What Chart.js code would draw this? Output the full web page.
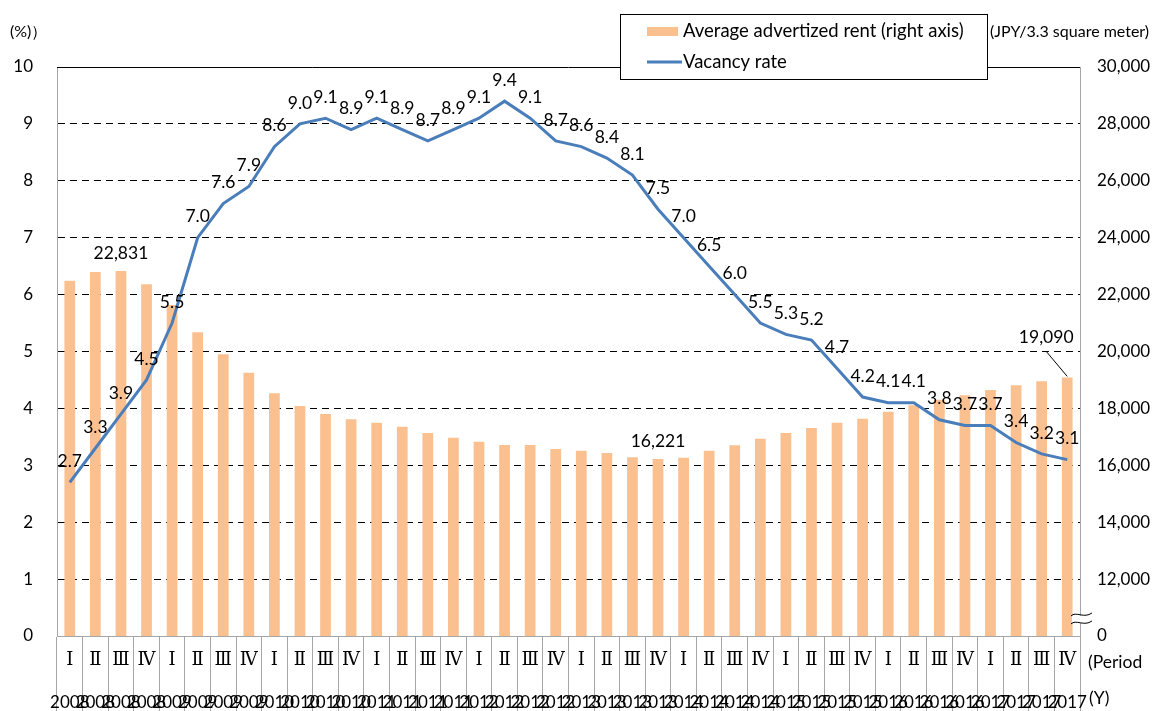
<!DOCTYPE html>
<html>
<head>
<meta charset="utf-8">
<script src="https://cdn.jsdelivr.net/npm/chart.js@4.4.1/dist/chart.umd.min.js"></script>
<style>
  html, body { margin: 0; padding: 0; background: #fff; }
</style>
</head>
<body>
<canvas id="chart" width="1161" height="711"></canvas>
<script>
// quarters 2008 I .. 2017 IV
const periods = ['Ⅰ','Ⅱ','Ⅲ','Ⅳ','Ⅰ','Ⅱ','Ⅲ','Ⅳ','Ⅰ','Ⅱ','Ⅲ','Ⅳ','Ⅰ','Ⅱ','Ⅲ','Ⅳ','Ⅰ','Ⅱ','Ⅲ','Ⅳ',
                 'Ⅰ','Ⅱ','Ⅲ','Ⅳ','Ⅰ','Ⅱ','Ⅲ','Ⅳ','Ⅰ','Ⅱ','Ⅲ','Ⅳ','Ⅰ','Ⅱ','Ⅲ','Ⅳ','Ⅰ','Ⅱ','Ⅲ','Ⅳ']
const years = ['2008','2008','2008','2008','2009','2009','2009','2009','2010','2010','2010','2010',
               '2011','2011','2011','2011','2012','2012','2012','2012','2013','2013','2013','2013',
               '2014','2014','2014','2014','2015','2015','2015','2015','2016','2016','2016','2016',
               '2017','2017','2017','2017']

// vacancy rate (%)
const vacancy = [2.7, 3.3, 3.9, 4.5, 5.5, 7.0, 7.6, 7.9, 8.6, 9.0, 9.1, 8.9, 9.1, 8.9, 8.7, 8.9,
                 9.1, 9.4, 9.1, 8.7, 8.6, 8.4, 8.1, 7.5, 7.0, 6.5, 6.0, 5.5, 5.3, 5.2, 4.7, 4.2,
                 4.1, 4.1, 3.8, 3.7, 3.7, 3.4, 3.2, 3.1]

// average advertized rent (JPY / 3.3 m2)
const rent = [22488, 22794, 22831, 22361, 21634, 20675, 19901, 19255, 18531, 18084, 17803, 17617,
              17497, 17357, 17136, 16970, 16829, 16713, 16713, 16573, 16513, 16432, 16281, 16221,
              16267, 16513, 16702, 16935, 17135, 17311, 17497, 17638, 17884, 18109, 18306, 18460,
              18647, 18812, 18952, 19090]
const rentLabelIdx = [2, 23, 39]

const leftTicks = [0, 1, 2, 3, 4, 5, 6, 7, 8, 9, 10]
const rightMin = 10000, rightMax = 30000, rightStep = 2000

const FONT = 'Lato, "Open Sans", sans-serif'
const GRAY = '#a6a6a6'
const BLUE = '#4a7ebb'
const PEACH = '#fac090'

const overlay = {
  id: 'overlay',
  afterDatasetsDraw(chart) {
    const { ctx, chartArea: a } = chart
    ctx.save()
    // solid top border
    ctx.strokeStyle = '#000'
    ctx.lineWidth = 1
    ctx.beginPath()
    ctx.moveTo(a.left, a.top + 0.5)
    ctx.lineTo(a.right, a.top + 0.5)
    ctx.stroke()

    ctx.fillStyle = '#000'
    ctx.font = '17.5px ' + FONT
    ctx.textAlign = 'center'
    ctx.textBaseline = 'middle'

    // vacancy labels
    chart.getDatasetMeta(1).data.forEach((pt, i) => {
      ctx.fillText(vacancy[i].toFixed(1), pt.x, pt.y - 21)
    })

    // rent labels
    const bars = chart.getDatasetMeta(0).data
    rentLabelIdx.forEach(i => {
      const b = bars[i]
      const txt = rent[i].toLocaleString('en-US')
      if (i === rent.length - 1) {
        ctx.fillText(txt, b.x - 21, b.y - 40)
        ctx.beginPath()
        ctx.moveTo(b.x - 21, b.y - 26)
        ctx.lineTo(b.x, b.y - 1)
        ctx.stroke()
      } else {
        ctx.fillText(txt, b.x, b.y - 18)
      }
    })
    ctx.restore()
  },
  afterDraw(chart) {
    const { ctx, chartArea: a, scales } = chart
    ctx.save()
    ctx.fillStyle = '#000'
    ctx.textBaseline = 'middle'

    // years under periods
    ctx.font = '17px ' + FONT
    ctx.textAlign = 'center'
    years.forEach((y, i) => {
      ctx.fillText(y, scales.x.getPixelForValue(i), 703)
    })

    // unit labels
    ctx.textAlign = 'left'
    ctx.font = '16px ' + FONT
    ctx.fillText('(%)）', 10, 32)
    ctx.fillText('(JPY/3.3 square meter)', 990, 32)
    ctx.font = '17.5px ' + FONT
    ctx.fillText('(Period', 1088, 662)
    ctx.fillText('(Y)', 1089, 698)

    // axis break mark
    const bx = a.right, by = scales.y1.getPixelForValue(rightMin + 600)
    ctx.fillStyle = '#fff'
    ctx.fillRect(bx - 8, by - 3, 16, 7)
    ctx.strokeStyle = '#000'
    ctx.lineWidth = 1
    ;[by - 4, by + 4].forEach(yy => {
      ctx.beginPath()
      ctx.moveTo(bx - 9, yy + 1)
      ctx.bezierCurveTo(bx - 4, yy - 4, bx + 4, yy + 4, bx + 12, yy - 2)
      ctx.stroke()
    })

    // legend
    const lx = 620, ly = 14, lw = 367, lh = 65
    ctx.fillStyle = '#fff'
    ctx.fillRect(lx, ly, lw, lh)
    ctx.strokeStyle = '#000'
    ctx.strokeRect(lx + 0.5, ly + 0.5, lw, lh)
    ctx.fillStyle = PEACH
    ctx.fillRect(647, 27, 31, 9)
    ctx.strokeStyle = BLUE
    ctx.lineWidth = 3
    ctx.beginPath()
    ctx.moveTo(647, 62)
    ctx.lineTo(682, 62)
    ctx.stroke()
    ctx.fillStyle = '#000'
    ctx.font = '18.5px ' + FONT
    ctx.fillText('Average advertized rent (right axis)', 683, 31)
    ctx.fillText('Vacancy rate', 683, 62)
    ctx.restore()
  }
}

new Chart(document.getElementById('chart'), {
  type: 'bar',
  data: {
    labels: periods,
    datasets: [
      {
        type: 'bar',
        label: 'Average advertized rent (right axis)',
        data: rent,
        yAxisID: 'y1',
        backgroundColor: PEACH,
        barPercentage: 0.42,
        categoryPercentage: 1,
        order: 2,
      },
      {
        type: 'line',
        label: 'Vacancy rate',
        data: vacancy,
        yAxisID: 'y',
        borderColor: BLUE,
        borderWidth: 3,
        pointRadius: 0,
        tension: 0,
        order: 1,
      },
    ],
  },
  options: {
    responsive: false,
    animation: false,
    devicePixelRatio: 1,
    layout: { padding: { top: 67, left: 0, right: 0, bottom: 0 } },
    plugins: { legend: { display: false }, tooltip: { enabled: false } },
    scales: {
      x: {
        grid: { offset: true, drawOnChartArea: false, tickLength: 75, color: GRAY },
        border: { color: GRAY },
        ticks: { font: { family: 'DejaVu Serif', size: 18 }, color: '#000', padding: -61, maxRotation: 0, autoSkip: false },
        afterFit: s => { s.height = 75 },
      },
      y: {
        position: 'left',
        min: 0,
        max: 10,
        afterBuildTicks: s => { s.ticks = leftTicks.map(v => ({ value: v })) },
        ticks: { font: { family: FONT, size: 17 }, color: '#000', padding: 24 },
        grid: {
          drawTicks: false,
          color: c => (c.tick.value === 0 || c.tick.value === 10) ? 'rgba(0,0,0,0)' : '#000',
        },
        border: { color: GRAY, dash: [7, 5] },
        afterFit: s => { s.width = 57 },
      },
      y1: {
        position: 'right',
        min: rightMin,
        max: rightMax,
        ticks: {
          stepSize: rightStep,
          font: { family: FONT, size: 17 },
          color: '#000',
          padding: 17,
          callback: v => v === rightMin ? '0' : v.toLocaleString('en-US'),
        },
        grid: { display: false, drawTicks: false },
        border: { color: GRAY },
        afterFit: s => { s.width = 81 },
      },
    },
  },
  plugins: [overlay],
})
</script>
</body>
</html>
